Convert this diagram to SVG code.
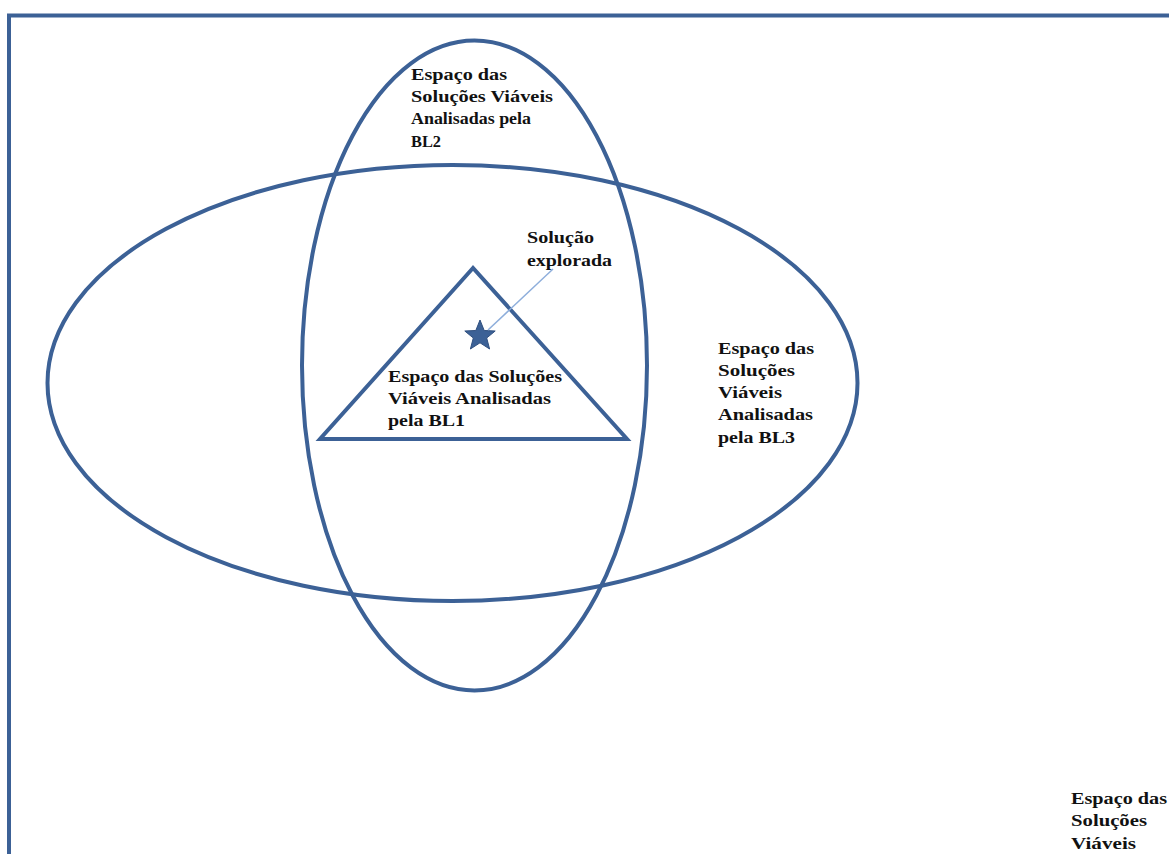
<svg xmlns="http://www.w3.org/2000/svg" width="1169" height="854" viewBox="0 0 1169 854">
<style>
.sh{fill:none;stroke:#3c6196;stroke-width:4}
.t{font-family:"Liberation Serif","Times New Roman",serif;font-weight:bold;font-size:17.5px;fill:#111}
</style>
<rect width="1169" height="854" fill="#fff"/>
<g id="frame"><path class="sh" d="M9,854 V15.5 H1169"/></g>
<g id="bl3"><ellipse class="sh" cx="452.5" cy="383" rx="405" ry="218"/></g>
<g id="bl2"><ellipse class="sh" cx="474.5" cy="365.5" rx="172.5" ry="325"/></g>
<g id="bl1"><polygon class="sh" points="473,268 320,439 627,439" stroke-linejoin="miter"/></g>
<g id="star"><polygon points="480,320 484.2,330.5 495.2,331 486.7,338 489.6,349 480,342.8 470.4,349 473.3,338 464.8,331 475.8,330.5" fill="#3c6196" stroke="#2f4f7f" stroke-width="1"/></g>
<g id="connectors"><line x1="488" y1="330" x2="553" y2="269" stroke="#8eaedb" stroke-width="1.5"/></g>
<g id="label-bl2" class="t">
<text x="411" y="80" textLength="96" lengthAdjust="spacingAndGlyphs">Espaço das</text>
<text x="411" y="102" textLength="142" lengthAdjust="spacingAndGlyphs">Soluções Viáveis</text>
<text x="411" y="124" textLength="120" lengthAdjust="spacingAndGlyphs">Analisadas pela</text>
<text x="411" y="147" textLength="30" lengthAdjust="spacingAndGlyphs">BL2</text>
</g>
<g id="label-sol" class="t">
<text x="527" y="243" textLength="67" lengthAdjust="spacingAndGlyphs">Solução</text>
<text x="527" y="266" textLength="85" lengthAdjust="spacingAndGlyphs">explorada</text>
</g>
<g id="label-bl1" class="t">
<text x="388" y="382" textLength="174" lengthAdjust="spacingAndGlyphs">Espaço das Soluções</text>
<text x="388" y="404" textLength="163" lengthAdjust="spacingAndGlyphs">Viáveis Analisadas</text>
<text x="388" y="426" textLength="77" lengthAdjust="spacingAndGlyphs">pela BL1</text>
</g>
<g id="label-bl3" class="t">
<text x="718" y="354" textLength="96" lengthAdjust="spacingAndGlyphs">Espaço das</text>
<text x="718" y="376" textLength="77" lengthAdjust="spacingAndGlyphs">Soluções</text>
<text x="718" y="398" textLength="64" lengthAdjust="spacingAndGlyphs">Viáveis</text>
<text x="718" y="420" textLength="95" lengthAdjust="spacingAndGlyphs">Analisadas</text>
<text x="718" y="443" textLength="77" lengthAdjust="spacingAndGlyphs">pela BL3</text>
</g>
<g id="label-all" class="t">
<text x="1071" y="804" textLength="96" lengthAdjust="spacingAndGlyphs">Espaço das</text>
<text x="1071" y="826" textLength="76" lengthAdjust="spacingAndGlyphs">Soluções</text>
<text x="1071" y="849" textLength="65" lengthAdjust="spacingAndGlyphs">Viáveis</text>
</g>
</svg>
